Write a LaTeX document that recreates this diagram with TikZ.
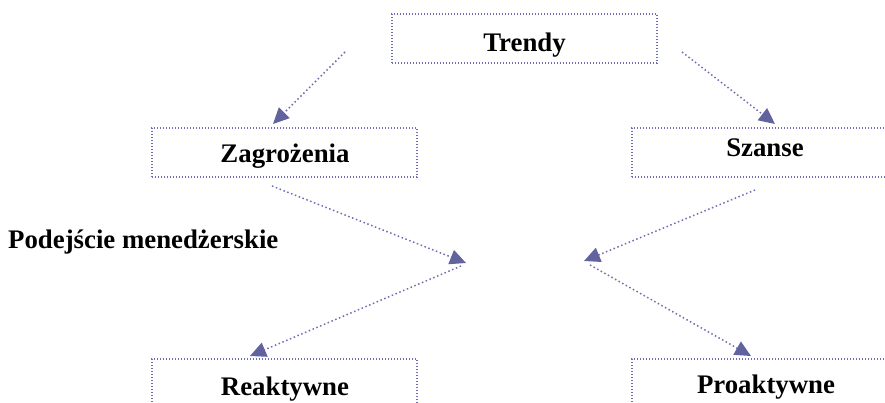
\documentclass[tikz,border=0pt]{standalone}
\usepackage{fontspec}
\setmainfont{Liberation Serif}
\usetikzlibrary{arrows.meta}
\definecolor{dotc}{HTML}{6E6EB2}
\definecolor{headc}{HTML}{62629E}
\tikzset{
  box/.style={draw=dotc, line width=1.4pt, dash pattern=on 1.3pt off 1.7pt, minimum width=265pt, minimum height=49pt, inner sep=0pt},
  lbl/.style={font=\fontsize{26.8}{31}\selectfont\bfseries, inner sep=0pt, anchor=base},
  conn/.style={draw=dotc, line width=1.5pt, dash pattern=on 1.5pt off 2.6pt, -{Triangle[length=16pt,width=15pt,fill=headc,color=headc]}}
}
\begin{document}
\begin{tikzpicture}[x=1pt,y=-1pt]
\useasboundingbox (0,0) rectangle (885,403);
\node[box] (trendy) at (524.5,38.5) {};
\node[lbl] (trendyt) at (524.5,52) {Trendy};
\node[box] (zag) at (284.5,152.5) {};
\node[lbl] (zagt) at (285,163) {Zagrożenia};
\node[box] (sza) at (764.5,152.5) {};
\node[lbl] (szat) at (765,157) {Szanse};
\node[box] (rea) at (284.5,383.5) {};
\node[lbl] (reat) at (285,395) {Reaktywne};
\node[box] (pro) at (764.5,383.5) {};
\node[lbl] (prot) at (766,393) {Proaktywne};
\node[lbl, anchor=base west] (pod) at (8,248) {Podejście menedżerskie};
\coordinate (s1) at (345,52);
\coordinate (t1) at (273,124);
\coordinate (s2) at (682,52);
\coordinate (t2) at (775,124);
\coordinate (s3) at (272,186);
\coordinate (t3) at (466,263);
\coordinate (s4) at (755,190);
\coordinate (t4) at (584,261);
\coordinate (s5) at (461,266);
\coordinate (t5) at (250,356);
\coordinate (s6) at (590,265);
\coordinate (t6) at (751,356);
\draw[conn] (s1) -- (t1);
\draw[conn] (s2) -- (t2);
\draw[conn] (s3) -- (t3);
\draw[conn] (s4) -- (t4);
\draw[conn] (s5) -- (t5);
\draw[conn] (s6) -- (t6);
\end{tikzpicture}
\end{document}
